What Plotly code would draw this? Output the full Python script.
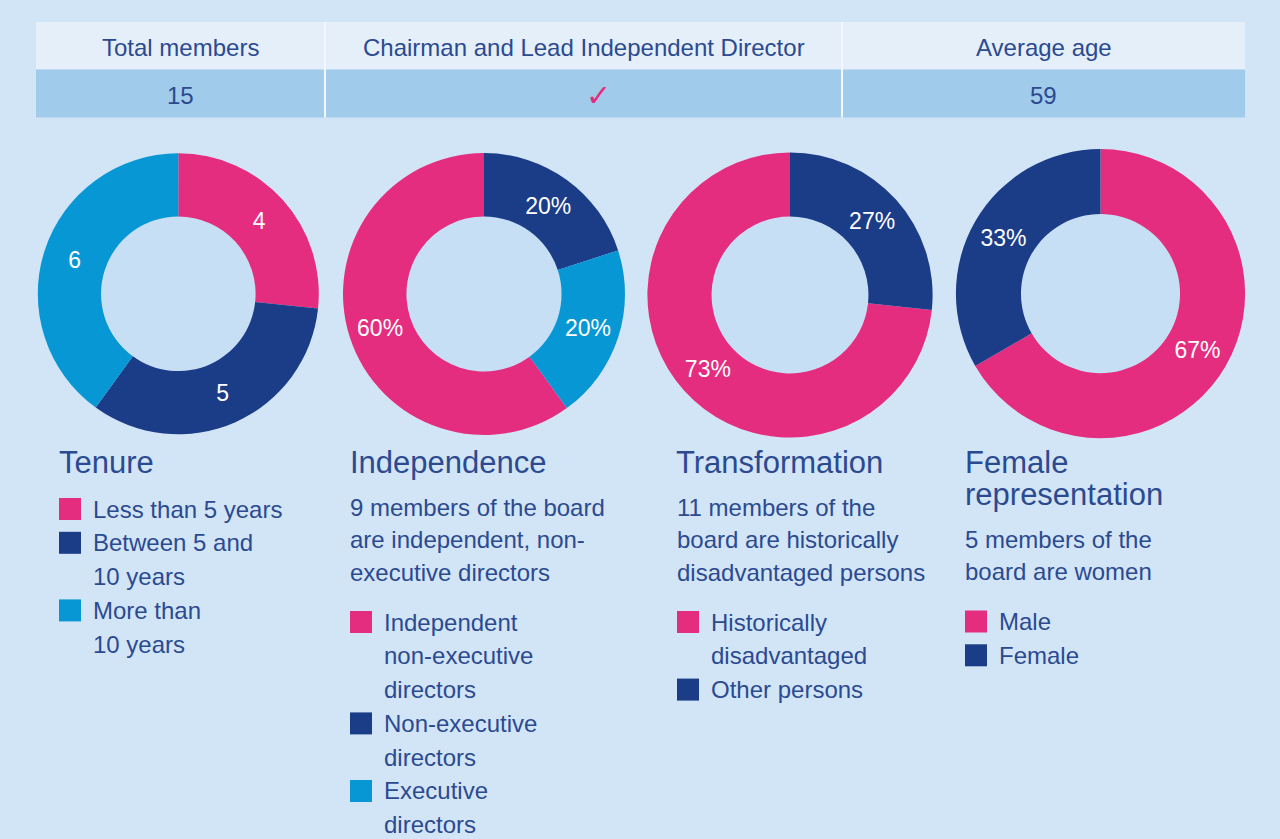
import plotly.graph_objects as go

W, H = 1280, 839
BG = "#d2e5f6"
HOLE_BG = "#c7dff4"
PINK = "#e52d80"
NAVY = "#1b3c87"
CYAN = "#0797d5"
TEXT = "#2c4a90"
FONT = "Liberation Sans, Arial, sans-serif"

# ---------------- data ----------------
table_headers = ["Total members", "Chairman and Lead Independent Director", "Average age"]
table_values = ["15", "\u2713", "59"]

tenure_values = [4, 5, 6]
tenure_legend = [["Less than 5 years"], ["Between 5 and", "10 years"], ["More than", "10 years"]]

independence_values = [9, 3, 3]
independence_legend = [["Independent", "non-executive", "directors"],
                       ["Non-executive", "directors"],
                       ["Executive", "directors"]]
independence_note = ["9 members of the board", "are independent, non-", "executive directors"]

transformation_values = [11, 4]
transformation_legend = [["Historically", "disadvantaged"], ["Other persons"]]
transformation_note = ["11 members of the", "board are historically", "disadvantaged persons"]

female_values = [10, 5]
female_legend = [["Male"], ["Female"]]
female_note = ["5 members of the", "board are women"]

panels = [
    dict(title=["Tenure"], note=[], legend=tenure_legend, values=tenure_values,
         colors=[PINK, NAVY, CYAN], lead=0, template="%{value}",
         cx=178.3, cy=293.8, r=140.5, tx=57, sx=59, lx=91),
    dict(title=["Independence"], note=independence_note, legend=independence_legend,
         values=independence_values, colors=[PINK, NAVY, CYAN], lead=2,
         template="%{percent:.0%}", cx=484, cy=294, r=141, tx=348, sx=350, lx=382),
    dict(title=["Transformation"], note=transformation_note, legend=transformation_legend,
         values=transformation_values, colors=[PINK, NAVY], lead=1,
         template="%{percent:.0%}", cx=790, cy=295, r=142.6, tx=674, sx=677, lx=709),
    dict(title=["Female", "representation"], note=female_note, legend=female_legend,
         values=female_values, colors=[PINK, NAVY], lead=0,
         template="%{percent:.0%}", cx=1100.5, cy=293.6, r=144.6, tx=963, sx=965, lx=997),
]

# table geometry (pixels)
col_edges = [36, 325, 842, 1245]
row_edges = [22, 69.5, 117.5]


def px(x):
    return x / W


def py(y):
    return 1 - y / H


fig = go.Figure()
annotations = []
shapes = []

# ---------------- header table ----------------
for (y0, y1), fill in zip([(row_edges[0], row_edges[1]), (row_edges[1], row_edges[2])],
                          ["#e4effa", "#a1cbeb"]):
    shapes.append(dict(type="rect", xref="paper", yref="paper", layer="below",
                       x0=px(col_edges[0]), x1=px(col_edges[-1]), y0=py(y1), y1=py(y0),
                       fillcolor=fill, line=dict(width=0)))
for xe in col_edges[1:-1]:
    shapes.append(dict(type="line", xref="paper", yref="paper",
                       x0=px(xe), x1=px(xe), y0=py(row_edges[-1]), y1=py(row_edges[0]),
                       line=dict(color="#f2f8fe", width=2)))
for i, (hdr, val) in enumerate(zip(table_headers, table_values)):
    xc = (col_edges[i] + col_edges[i + 1]) / 2
    annotations.append(dict(x=px(xc), y=py(47.5), xref="paper", yref="paper", text=hdr,
                            showarrow=False, xanchor="center", yanchor="middle",
                            font=dict(family=FONT, size=24, color=TEXT)))
    is_check = val == "\u2713"
    annotations.append(dict(x=px(xc + (15 if is_check else 0)), y=py(95), xref="paper",
                            yref="paper", text=val,
                            showarrow=False, xanchor="center", yanchor="middle",
                            font=dict(family="DejaVu Sans, sans-serif" if is_check else FONT,
                                      size=30 if is_check else 24,
                                      color=PINK if is_check else TEXT)))

HOLE = 0.55

for p in panels:
    cx, cy, r = p["cx"], p["cy"], p["r"]
    vals = p["values"]
    rot = 0
    if p["lead"]:
        rot = 360 * sum(vals[len(vals) - p["lead"]:]) / sum(vals)
    fig.add_trace(go.Pie(
        values=vals, sort=False, direction="clockwise", rotation=rot,
        hole=HOLE, marker=dict(colors=p["colors"], line=dict(width=0)),
        texttemplate=p["template"], textposition="inside",
        insidetextorientation="horizontal",
        textfont=dict(family=FONT, size=23, color="white"),
        domain=dict(x=[px(cx - r), px(cx + r)], y=[py(cy + r), py(cy - r)]),
        hoverinfo="skip", showlegend=False,
    ))
    rr = r * 0.75
    shapes.append(dict(type="circle", xref="paper", yref="paper", layer="below",
                       x0=px(cx - rr), x1=px(cx + rr), y0=py(cy + rr), y1=py(cy - rr),
                       fillcolor=HOLE_BG, line=dict(width=0)))

    y = 462
    last = y
    for line in p["title"]:
        annotations.append(dict(x=px(p["tx"]), y=py(y), xref="paper", yref="paper",
                                text=line, showarrow=False, xanchor="left", yanchor="middle",
                                font=dict(family=FONT, size=31, color=TEXT)))
        last = y
        y += 32
    y = last + 45
    for line in p["note"]:
        annotations.append(dict(x=px(p["sx"] - 2), y=py(y), xref="paper", yref="paper",
                                text=line, showarrow=False, xanchor="left", yanchor="middle",
                                font=dict(family=FONT, size=24, color=TEXT)))
        last = y
        y += 32.5
    y = last + (50 if p["note"] else 47)
    for item, col in zip(p["legend"], p["colors"]):
        shapes.append(dict(type="rect", xref="paper", yref="paper",
                           x0=px(p["sx"]), x1=px(p["sx"] + 22),
                           y0=py(y + 11), y1=py(y - 11),
                           fillcolor=col, line=dict(width=0)))
        for line in item:
            annotations.append(dict(x=px(p["lx"]), y=py(y), xref="paper", yref="paper",
                                    text=line, showarrow=False, xanchor="left",
                                    yanchor="middle",
                                    font=dict(family=FONT, size=24, color=TEXT)))
            y += 33.8

fig.update_layout(
    width=W, height=H, margin=dict(l=0, r=0, t=0, b=0),
    paper_bgcolor=BG, plot_bgcolor=BG,
    annotations=annotations, shapes=shapes,
    font=dict(family=FONT, color=TEXT),
)

fig.write_html("out.html", config={"displayModeBar": False},
               post_script="document.body.style.margin='0';")
